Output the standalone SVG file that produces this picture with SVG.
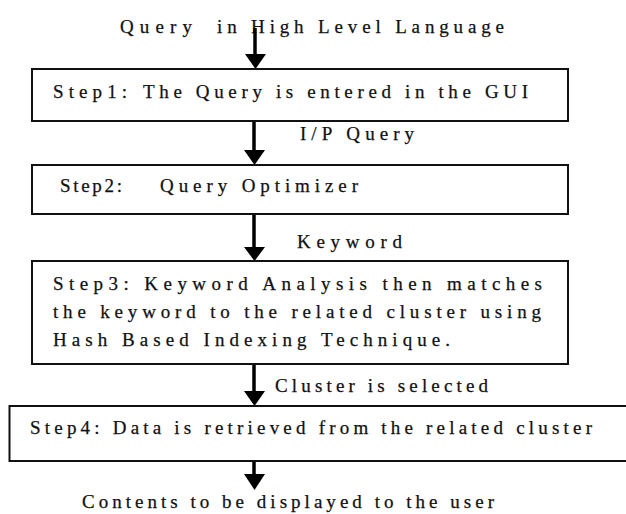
<svg xmlns="http://www.w3.org/2000/svg" width="626" height="514" viewBox="0 0 626 514">
<style>
.box{fill:#fff;stroke:#111;stroke-width:2}
.t{font-family:"Liberation Serif","Times New Roman",serif;font-size:19px;fill:#111;stroke:#111;stroke-width:0.25;white-space:pre}
.sh{stroke:#000;stroke-width:3.5;fill:none}
.hd{fill:#000}
</style>
<rect width="626" height="514" fill="#fff"/>
<g id="title"><text class="t" x="120" y="33" textLength="72" lengthAdjust="spacing">Query</text><text class="t" x="217" y="33" textLength="287" lengthAdjust="spacing">in High Level Language</text></g>
<g id="connectors">
<line class="sh" x1="255" y1="28" x2="255" y2="55"/><polygon class="hd" points="245,54 266,54 255.5,69"/>
<line class="sh" x1="254" y1="121" x2="254" y2="151"/><polygon class="hd" points="244,150 265,150 254.5,165"/>
<line class="sh" x1="254" y1="214" x2="254" y2="248"/><polygon class="hd" points="244,247 265,247 254.5,261"/>
<line class="sh" x1="254" y1="364" x2="254" y2="392"/><polygon class="hd" points="244,391 265,391 254.5,406"/>
<line class="sh" x1="254" y1="461" x2="254" y2="475"/><polygon class="hd" points="244,474 265,474 254.5,490"/>
<text class="t" x="300" y="140" textLength="114" lengthAdjust="spacing">I/P Query</text>
<text class="t" x="297" y="248" textLength="105" lengthAdjust="spacing">Keyword</text>
<text class="t" x="275" y="392" textLength="213" lengthAdjust="spacing">Cluster is selected</text>
</g>
<g id="step1"><rect class="box" x="32" y="69" width="536" height="52"/><text class="t" x="53" y="98" textLength="74" lengthAdjust="spacing">Step1:</text><text class="t" x="143" y="98" textLength="385" lengthAdjust="spacing">The Query is entered in the GUI</text></g>
<g id="step2"><rect class="box" x="32" y="165" width="536" height="49"/><text class="t" x="60" y="192" textLength="62" lengthAdjust="spacing">Step2:</text><text class="t" x="160" y="192" textLength="198" lengthAdjust="spacing">Query Optimizer</text></g>
<g id="step3"><rect class="box" x="32" y="261" width="536" height="103"/>
<text class="t" x="53" y="290" textLength="489" lengthAdjust="spacing">Step3: Keyword Analysis then matches</text>
<text class="t" x="53" y="318" textLength="488" lengthAdjust="spacing">the keyword to the related cluster using</text>
<text class="t" x="53" y="346" textLength="397" lengthAdjust="spacing">Hash Based Indexing Technique.</text></g>
<g id="step4"><rect class="box" x="9.5" y="406" width="640" height="55"/><text class="t" x="30" y="434" textLength="562" lengthAdjust="spacing">Step4: Data is retrieved from the related cluster</text></g>
<g id="output"><text class="t" x="82" y="508" textLength="412" lengthAdjust="spacing">Contents to be displayed to the user</text></g>
</svg>
